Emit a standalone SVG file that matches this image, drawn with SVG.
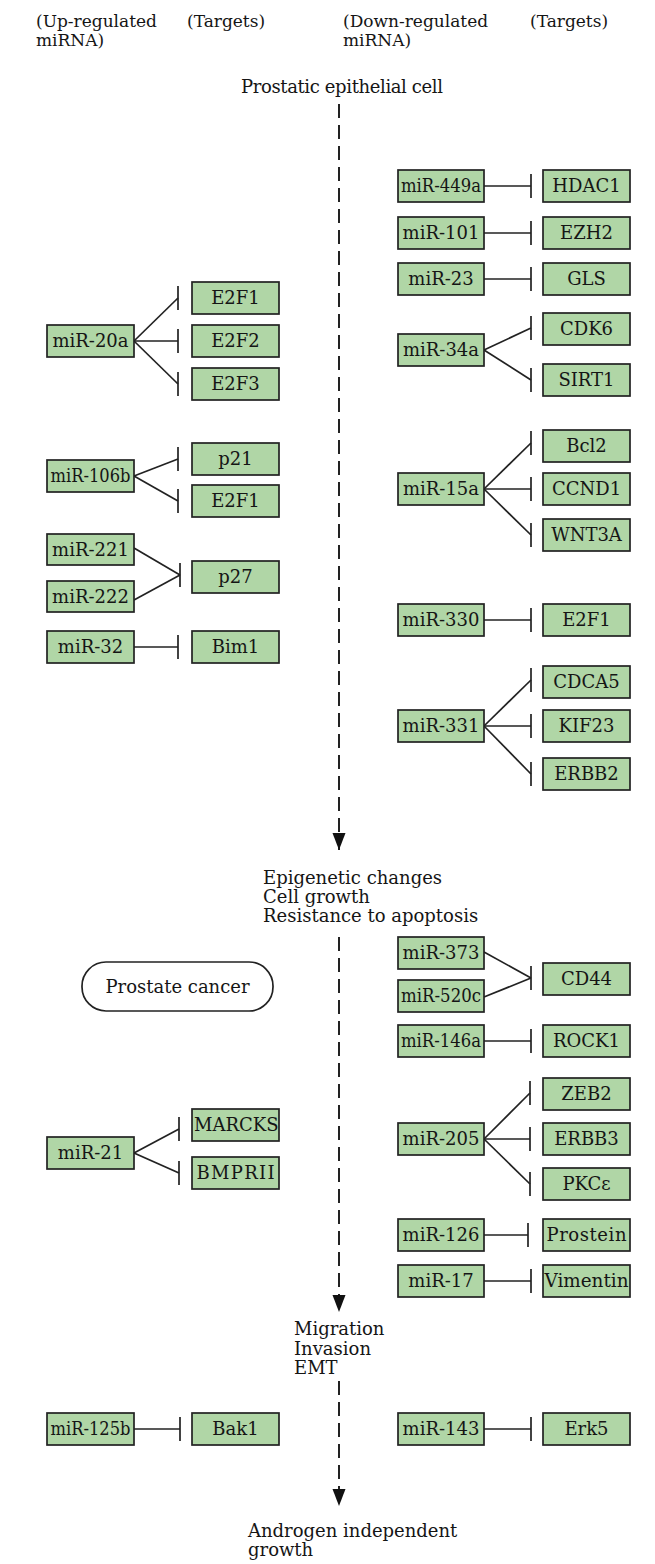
<svg xmlns="http://www.w3.org/2000/svg" width="655" height="1564" viewBox="0 0 655 1564">
<style>
text{font-family:"DejaVu Serif","Liberation Serif",serif;font-size:18px;fill:#151515}
.hd{font-size:17px}
.b rect{fill:#b0d6a6;stroke:#222;stroke-width:1.7}
.b text{text-anchor:middle}
.e line{stroke:#222;stroke-width:1.7;fill:none}
.flow{stroke:#222;stroke-width:2;stroke-dasharray:14 7;fill:none}
</style>
<defs>
<marker id="arr" markerUnits="userSpaceOnUse" markerWidth="18" markerHeight="14" refX="17" refY="7" orient="auto" viewBox="0 0 18 14">
<path d="M0,0.5 L17,7 L0,13.5 z" fill="#111"/>
</marker>
<clipPath id="clipM"><rect x="192" y="1109" width="87" height="32"/></clipPath>
</defs>

<g id="headers" class="hd">
<text class="hd" x="36" y="27">(Up-regulated</text>
<text class="hd" x="36" y="46">miRNA)</text>
<text class="hd" x="187" y="27">(Targets)</text>
<text class="hd" x="343" y="27">(Down-regulated</text>
<text class="hd" x="343" y="46">miRNA)</text>
<text class="hd" x="530" y="27">(Targets)</text>
</g>

<g id="flow">
<text x="241" y="93" textLength="202">Prostatic epithelial cell</text>
<path class="flow" d="M339,104 V850" marker-end="url(#arr)"/>
<text x="263" y="884">Epigenetic changes</text>
<text x="263" y="903">Cell growth</text>
<text x="263" y="922">Resistance to apoptosis</text>
<path class="flow" d="M339,937 V1312" marker-end="url(#arr)"/>
<text x="294" y="1335">Migration</text>
<text x="294" y="1355">Invasion</text>
<text x="294" y="1374">EMT</text>
<path class="flow" d="M339,1381 V1506" marker-end="url(#arr)"/>
<text x="248" y="1537">Androgen independent</text>
<text x="248" y="1556">growth</text>
</g>

<g id="prostate-cancer">
<rect x="82" y="962" width="191" height="49" rx="24" ry="24" fill="#fff" stroke="#222" stroke-width="1.7"/>
<text x="177.5" y="993" text-anchor="middle">Prostate cancer</text>
</g>

<g id="connectors" class="e">
<line x1="134" y1="341" x2="178" y2="298"/><line x1="178" y1="286" x2="178" y2="310"/>
<line x1="134" y1="341" x2="178" y2="341"/><line x1="178" y1="329" x2="178" y2="353"/>
<line x1="134" y1="341" x2="178" y2="384"/><line x1="178" y1="372" x2="178" y2="396"/>
<line x1="134" y1="476" x2="178" y2="459"/><line x1="178" y1="447" x2="178" y2="471"/>
<line x1="134" y1="476" x2="178" y2="501"/><line x1="178" y1="489" x2="178" y2="513"/>
<line x1="134" y1="548" x2="180" y2="575"/><line x1="134" y1="600" x2="180" y2="575"/><line x1="180" y1="563" x2="180" y2="587"/>
<line x1="134" y1="647" x2="178" y2="647"/><line x1="178" y1="635" x2="178" y2="659"/>
<line x1="134" y1="1153" x2="179" y2="1129"/><line x1="179" y1="1117" x2="179" y2="1141"/>
<line x1="134" y1="1153" x2="179" y2="1173"/><line x1="179" y1="1161" x2="179" y2="1185"/>
<line x1="134" y1="1429" x2="180" y2="1429"/><line x1="180" y1="1417" x2="180" y2="1441"/>
<line x1="484" y1="186" x2="531" y2="186"/><line x1="531" y1="174" x2="531" y2="198"/>
<line x1="484" y1="233" x2="531" y2="233"/><line x1="531" y1="221" x2="531" y2="245"/>
<line x1="484" y1="279" x2="531" y2="279"/><line x1="531" y1="267" x2="531" y2="291"/>
<line x1="484" y1="350" x2="531" y2="328"/><line x1="531" y1="316" x2="531" y2="340"/>
<line x1="484" y1="350" x2="531" y2="380"/><line x1="531" y1="368" x2="531" y2="392"/>
<line x1="484" y1="489" x2="531" y2="443"/><line x1="531" y1="431" x2="531" y2="455"/>
<line x1="484" y1="489" x2="531" y2="489"/><line x1="531" y1="477" x2="531" y2="501"/>
<line x1="484" y1="489" x2="531" y2="535"/><line x1="531" y1="523" x2="531" y2="547"/>
<line x1="484" y1="620" x2="531" y2="620"/><line x1="531" y1="608" x2="531" y2="632"/>
<line x1="484" y1="726" x2="531" y2="680"/><line x1="531" y1="668" x2="531" y2="692"/>
<line x1="484" y1="726" x2="531" y2="726"/><line x1="531" y1="714" x2="531" y2="738"/>
<line x1="484" y1="726" x2="531" y2="774"/><line x1="531" y1="762" x2="531" y2="786"/>
<line x1="484" y1="952" x2="531" y2="978"/><line x1="484" y1="997" x2="531" y2="978"/><line x1="531" y1="966" x2="531" y2="990"/>
<line x1="484" y1="1041" x2="531" y2="1041"/><line x1="531" y1="1029" x2="531" y2="1053"/>
<line x1="484" y1="1139" x2="530" y2="1093"/><line x1="530" y1="1081" x2="530" y2="1105"/>
<line x1="484" y1="1139" x2="530" y2="1139"/><line x1="530" y1="1127" x2="530" y2="1151"/>
<line x1="484" y1="1139" x2="530" y2="1184"/><line x1="530" y1="1172" x2="530" y2="1196"/>
<line x1="484" y1="1235" x2="528" y2="1235"/><line x1="528" y1="1223" x2="528" y2="1247"/>
<line x1="484" y1="1281" x2="531" y2="1281"/><line x1="531" y1="1269" x2="531" y2="1293"/>
<line x1="484" y1="1429" x2="531" y2="1429"/><line x1="531" y1="1417" x2="531" y2="1441"/>
</g>

<g id="miR-20a" class="b"><rect x="47" y="325" width="87" height="32"/><text x="90.5" y="347">miR-20a</text></g>
<g id="E2F1-a" class="b"><rect x="192" y="282" width="87" height="32"/><text x="235.5" y="304">E2F1</text></g>
<g id="E2F2" class="b"><rect x="192" y="325" width="87" height="32"/><text x="235.5" y="347">E2F2</text></g>
<g id="E2F3" class="b"><rect x="192" y="368" width="87" height="32"/><text x="235.5" y="390">E2F3</text></g>
<g id="miR-106b" class="b"><rect x="47" y="460" width="87" height="32"/><text x="90.5" y="482" textLength="80" lengthAdjust="spacingAndGlyphs">miR-106b</text></g>
<g id="p21" class="b"><rect x="192" y="443" width="87" height="32"/><text x="235.5" y="465">p21</text></g>
<g id="E2F1-b" class="b"><rect x="192" y="485" width="87" height="32"/><text x="235.5" y="507">E2F1</text></g>
<g id="miR-221" class="b"><rect x="47" y="534" width="87" height="31"/><text x="90.5" y="556">miR-221</text></g>
<g id="miR-222" class="b"><rect x="47" y="581" width="87" height="31"/><text x="90.5" y="603">miR-222</text></g>
<g id="p27" class="b"><rect x="192" y="561" width="87" height="32"/><text x="235.5" y="583">p27</text></g>
<g id="miR-32" class="b"><rect x="47" y="631" width="87" height="32"/><text x="90.5" y="653">miR-32</text></g>
<g id="Bim1" class="b"><rect x="192" y="631" width="87" height="32"/><text x="235.5" y="653">Bim1</text></g>
<g id="miR-21" class="b"><rect x="47" y="1137" width="87" height="32"/><text x="90.5" y="1159">miR-21</text></g>
<g id="MARCKS" class="b"><rect x="192" y="1109" width="87" height="32"/><text x="194" y="1131" style="text-anchor:start" clip-path="url(#clipM)">MARCKS</text></g>
<g id="BMPRII" class="b"><rect x="192" y="1157" width="87" height="32"/><text x="235.5" y="1179" textLength="78" lengthAdjust="spacing">BMPRII</text></g>
<g id="miR-125b" class="b"><rect x="47" y="1413" width="87" height="32"/><text x="90.5" y="1435" textLength="80" lengthAdjust="spacingAndGlyphs">miR-125b</text></g>
<g id="Bak1" class="b"><rect x="192" y="1413" width="87" height="32"/><text x="235.5" y="1435">Bak1</text></g>

<g id="miR-449a" class="b"><rect x="398" y="170" width="86" height="32"/><text x="441" y="192" textLength="80" lengthAdjust="spacingAndGlyphs">miR-449a</text></g>
<g id="HDAC1" class="b"><rect x="543" y="170" width="87" height="32"/><text x="586.5" y="192">HDAC1</text></g>
<g id="miR-101" class="b"><rect x="398" y="217" width="86" height="32"/><text x="441" y="239">miR-101</text></g>
<g id="EZH2" class="b"><rect x="543" y="217" width="87" height="32"/><text x="586.5" y="239">EZH2</text></g>
<g id="miR-23" class="b"><rect x="398" y="263" width="86" height="32"/><text x="441" y="285">miR-23</text></g>
<g id="GLS" class="b"><rect x="543" y="263" width="87" height="32"/><text x="586.5" y="285">GLS</text></g>
<g id="miR-34a" class="b"><rect x="398" y="334" width="86" height="32"/><text x="441" y="356">miR-34a</text></g>
<g id="CDK6" class="b"><rect x="543" y="313" width="87" height="32"/><text x="586.5" y="335">CDK6</text></g>
<g id="SIRT1" class="b"><rect x="543" y="364" width="87" height="32"/><text x="586.5" y="386">SIRT1</text></g>
<g id="miR-15a" class="b"><rect x="398" y="473" width="86" height="32"/><text x="441" y="495">miR-15a</text></g>
<g id="Bcl2" class="b"><rect x="543" y="430" width="87" height="32"/><text x="586.5" y="452">Bcl2</text></g>
<g id="CCND1" class="b"><rect x="543" y="473" width="87" height="32"/><text x="586.5" y="495">CCND1</text></g>
<g id="WNT3A" class="b"><rect x="543" y="519" width="87" height="32"/><text x="586.5" y="541">WNT3A</text></g>
<g id="miR-330" class="b"><rect x="398" y="604" width="86" height="32"/><text x="441" y="626">miR-330</text></g>
<g id="E2F1-c" class="b"><rect x="543" y="604" width="87" height="32"/><text x="586.5" y="626">E2F1</text></g>
<g id="miR-331" class="b"><rect x="398" y="710" width="86" height="32"/><text x="441" y="732">miR-331</text></g>
<g id="CDCA5" class="b"><rect x="543" y="666" width="87" height="32"/><text x="586.5" y="688">CDCA5</text></g>
<g id="KIF23" class="b"><rect x="543" y="710" width="87" height="32"/><text x="586.5" y="732">KIF23</text></g>
<g id="ERBB2" class="b"><rect x="543" y="758" width="87" height="32"/><text x="586.5" y="780">ERBB2</text></g>
<g id="miR-373" class="b"><rect x="398" y="937" width="86" height="32"/><text x="441" y="959">miR-373</text></g>
<g id="miR-520c" class="b"><rect x="398" y="980" width="86" height="32"/><text x="441" y="1002" textLength="80" lengthAdjust="spacingAndGlyphs">miR-520c</text></g>
<g id="CD44" class="b"><rect x="543" y="963" width="87" height="32"/><text x="586.5" y="985">CD44</text></g>
<g id="miR-146a" class="b"><rect x="398" y="1025" width="86" height="32"/><text x="441" y="1047" textLength="80" lengthAdjust="spacingAndGlyphs">miR-146a</text></g>
<g id="ROCK1" class="b"><rect x="543" y="1025" width="87" height="32"/><text x="586.5" y="1047">ROCK1</text></g>
<g id="miR-205" class="b"><rect x="398" y="1123" width="86" height="32"/><text x="441" y="1145">miR-205</text></g>
<g id="ZEB2" class="b"><rect x="543" y="1078" width="87" height="32"/><text x="586.5" y="1100">ZEB2</text></g>
<g id="ERBB3" class="b"><rect x="543" y="1123" width="87" height="32"/><text x="586.5" y="1145">ERBB3</text></g>
<g id="PKCe" class="b"><rect x="543" y="1168" width="87" height="32"/><text x="586.5" y="1190">PKCε</text></g>
<g id="miR-126" class="b"><rect x="398" y="1219" width="86" height="32"/><text x="441" y="1241">miR-126</text></g>
<g id="Prostein" class="b"><rect x="543" y="1219" width="87" height="32"/><text x="586.5" y="1241" textLength="80" lengthAdjust="spacing">Prostein</text></g>
<g id="miR-17" class="b"><rect x="398" y="1265" width="86" height="32"/><text x="441" y="1287">miR-17</text></g>
<g id="Vimentin" class="b"><rect x="543" y="1265" width="87" height="32"/><text x="586.5" y="1287" textLength="84" lengthAdjust="spacingAndGlyphs">Vimentin</text></g>
<g id="miR-143" class="b"><rect x="398" y="1413" width="86" height="32"/><text x="441" y="1435">miR-143</text></g>
<g id="Erk5" class="b"><rect x="543" y="1413" width="87" height="32"/><text x="586.5" y="1435">Erk5</text></g>
</svg>
